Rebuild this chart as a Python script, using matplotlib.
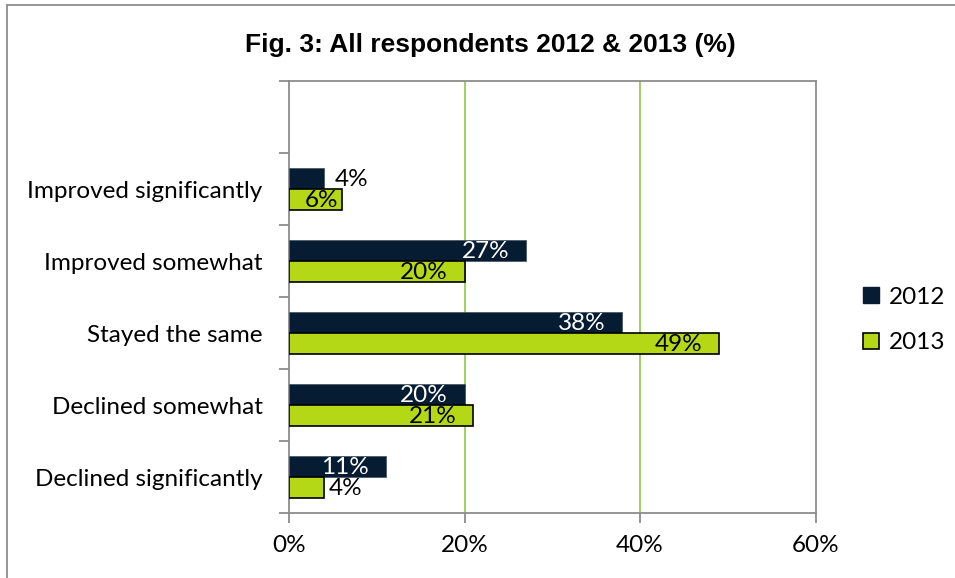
import matplotlib
matplotlib.use("Agg")
import matplotlib.pyplot as plt
from matplotlib.patches import Patch, Rectangle
import numpy as np

categories = ["Improved significantly", "Improved somewhat", "Stayed the same",
              "Declined somewhat", "Declined significantly"]
series_names = ["2012", "2013"]
values_2012 = [4, 27, 38, 20, 11]
values_2013 = [6, 20, 49, 21, 4]
x_ticks = [0, 20, 40, 60]
x_tick_labels = ["0%", "20%", "40%", "60%"]
title = "Fig. 3: All respondents 2012 & 2013 (%)"

C2012 = "#051C33"
C2013 = "#B4D816"
GRID = "#92D050"
AXC = "#8C8C8C"
FONT = "Lato"
FS = 17.5

W, H = 955, 578
fig = plt.figure(figsize=(W / 100, H / 100), dpi=100)
fig.patches.append(Rectangle((7 / W, -0.1), 2, 1.1 - 5 / H, transform=fig.transFigure,
                             fill=False, edgecolor=AXC, linewidth=1.3))

ax = fig.add_axes([289 / W, 1 - 513 / H, (815.5 - 289) / W, (513 - 81) / H])

n = len(categories)
pos = np.arange(n)[::-1]  # top category highest
bh = 0.29
off = bh / 2

b1 = ax.barh(pos + off, values_2012, height=bh, color=C2012, edgecolor="#4A5A6A",
             linewidth=0.6, zorder=3)
b2 = ax.barh(pos - off, values_2013, height=bh, color=C2013, edgecolor="black",
             linewidth=1.2, zorder=3)

ax.set_xlim(0, 60)
ax.set_ylim(-0.5, n + 0.5)

for xv in x_ticks[1:-1]:
    ax.axvline(xv, color=GRID, linewidth=1.3, zorder=1)

for s in ax.spines.values():
    s.set_color(AXC)
    s.set_linewidth(1.3)

ax.set_xticks(x_ticks)
ax.set_xticklabels(x_tick_labels, fontsize=FS, family=FONT)
ax.tick_params(axis="x", length=7, width=1.3, color=AXC, pad=9, direction="out")

ax.set_yticks(np.arange(-0.5, n + 0.6, 1.0))
ax.set_yticklabels([])
ax.tick_params(axis="y", which="major", length=7, width=1.3, color=AXC, direction="out")
ax.set_yticks(pos, minor=True)
ax.set_yticklabels(categories, minor=True, fontsize=FS, family=FONT)
ax.tick_params(axis="y", which="minor", length=0, pad=19)


def label(bars, vals, inside_color, outside_color, out_pad):
    for rect, v in zip(bars, vals):
        y = rect.get_y() + rect.get_height() / 2
        txt = f"{v}%"
        if v <= 4:
            ax.annotate(txt, (v, y), xytext=(out_pad, -1), textcoords="offset points",
                        ha="left", va="center", color=outside_color,
                        fontsize=FS, family=FONT, zorder=4)
        elif v <= 8:
            ax.annotate(txt, (0, y), xytext=(11, -1), textcoords="offset points",
                        ha="left", va="center", color=inside_color,
                        fontsize=FS, family=FONT, zorder=4)
        else:
            ax.annotate(txt, (v, y), xytext=(-12, -1), textcoords="offset points",
                        ha="right", va="center", color=inside_color,
                        fontsize=FS, family=FONT, zorder=4)


label(b1, values_2012, "white", "black", 8)
label(b2, values_2013, "black", "black", 3)

fig.text(490 / W, 1 - 45 / H, title, ha="center", va="center", fontsize=19,
         fontweight="bold", family="Liberation Sans")

handles = [Patch(facecolor=C2012, edgecolor=C2012),
           Patch(facecolor=C2013, edgecolor="black", linewidth=1.2)]
fig.legend(handles, series_names, loc="center left", bbox_to_anchor=(863 / W, 1 - 320 / H),
           frameon=False, borderpad=0, borderaxespad=0,
           handlelength=0.65, handleheight=0.65, handletextpad=0.4,
           labelspacing=1.0, prop={"family": FONT, "size": FS})

fig.savefig("out.png", dpi=100)
